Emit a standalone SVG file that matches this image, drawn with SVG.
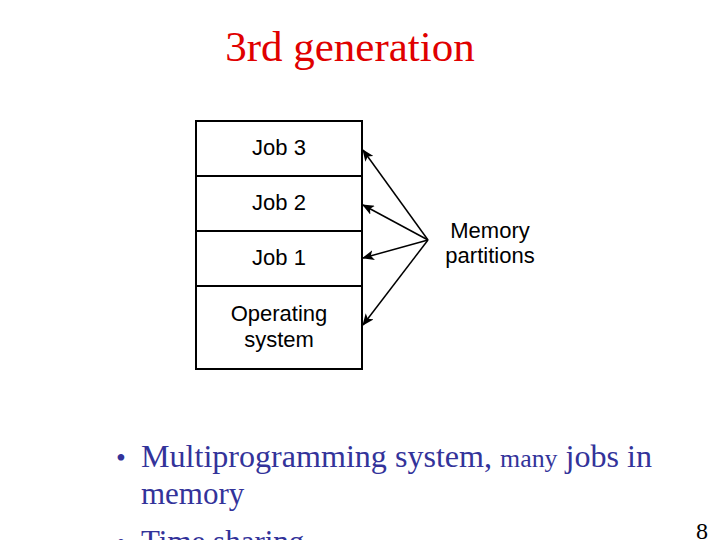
<svg xmlns="http://www.w3.org/2000/svg" width="720" height="540" viewBox="0 0 720 540">
<style>
.b{fill:#fff;stroke:#000;stroke-width:2}
.l{font-family:"Liberation Sans",Arial,sans-serif;font-size:22px;text-anchor:middle}
.s{font-family:"Liberation Serif","Times New Roman",serif;fill:#33339a}
.c{stroke:#000;stroke-width:1.5;fill:none;marker-end:url(#a)}
</style>
<defs><marker id="a" markerWidth="12" markerHeight="10" refX="11" refY="5" orient="auto" markerUnits="userSpaceOnUse"><path d="M0,0 L12,5 L0,10 L3,5 Z" fill="#000"/></marker></defs>
<rect width="720" height="540" fill="#fff"/>
<text x="350" y="61" font-family="Liberation Serif,serif" font-size="43" fill="#e00000" text-anchor="middle">3rd generation</text>
<g id="job3"><rect class="b" x="196" y="121" width="166" height="55"/><text class="l" x="279" y="155">Job 3</text></g>
<g id="job2"><rect class="b" x="196" y="176" width="166" height="55"/><text class="l" x="279" y="210">Job 2</text></g>
<g id="job1"><rect class="b" x="196" y="231" width="166" height="55"/><text class="l" x="279" y="265">Job 1</text></g>
<g id="os"><rect class="b" x="196" y="286" width="166" height="83"/><text class="l" x="279" y="321">Operating</text><text class="l" x="279" y="347">system</text></g>
<g id="label"><text class="l" x="490" y="238">Memory</text><text class="l" x="490" y="263">partitions</text></g>
<g id="connectors">
<path class="c" d="M428,240 L363,150"/>
<path class="c" d="M428,240 L363,205"/>
<path class="c" d="M428,240 L363,258"/>
<path class="c" d="M428,240 L363,325"/>
</g>
<text x="116" y="467" class="s" font-size="28">•</text>
<text x="141" y="467" class="s" font-size="31" textLength="511" lengthAdjust="spacingAndGlyphs">Multiprogramming system, <tspan font-size="25">many</tspan> jobs in</text>
<text x="141" y="504" class="s" font-size="31">memory</text>
<text x="116" y="552" class="s" font-size="28">•</text>
<text x="141" y="552" class="s" font-size="31">Time sharing</text>
<text x="708" y="539" font-family="Liberation Serif,serif" font-size="24" text-anchor="end">8</text>
</svg>
